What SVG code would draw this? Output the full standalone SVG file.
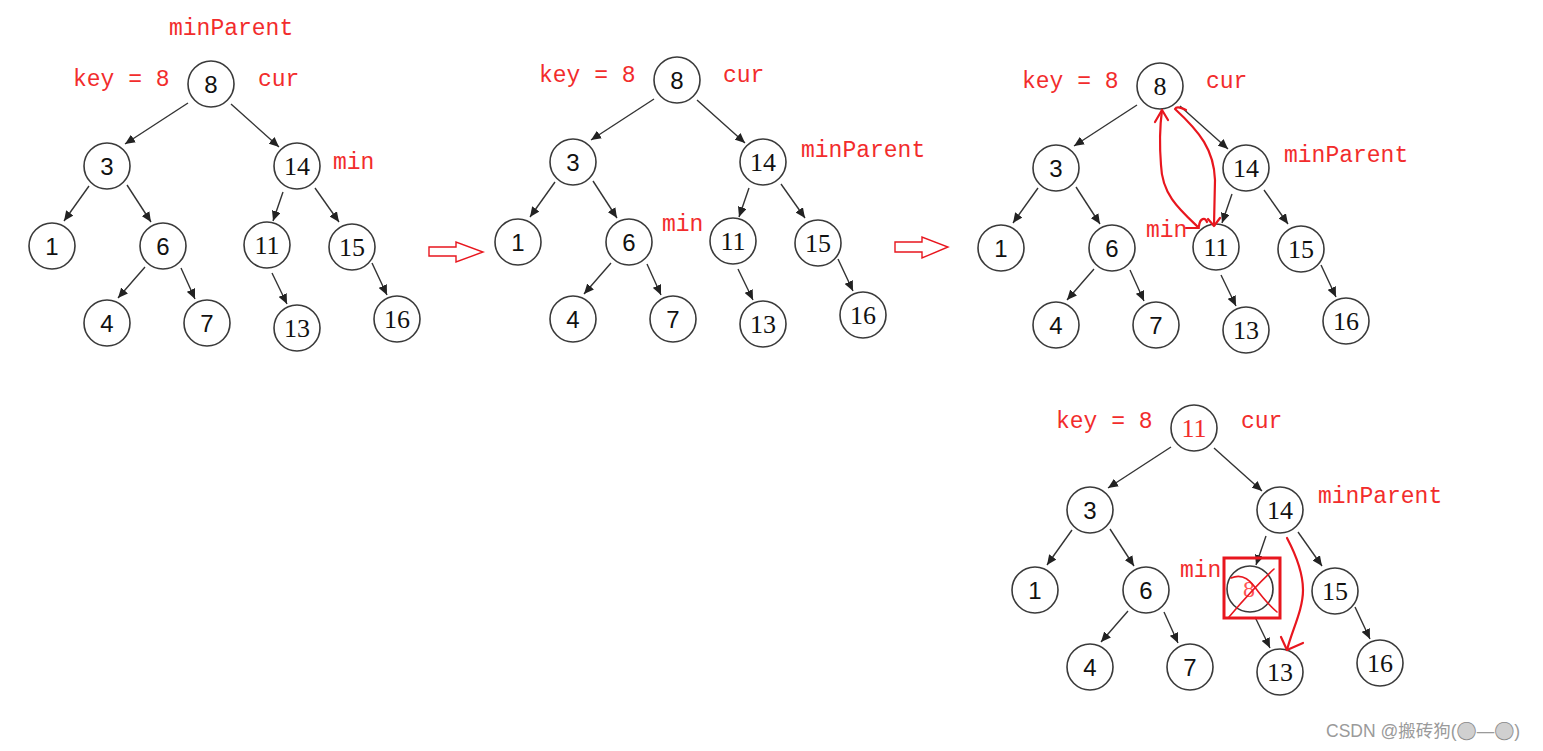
<svg xmlns="http://www.w3.org/2000/svg" width="1543" height="751" viewBox="0 0 1543 751">
<style>
.nd circle{fill:#fff;stroke:#3a3a3a;stroke-width:1.6}
.sa{font-family:"Liberation Sans",Arial,sans-serif;font-size:24px;fill:#111;text-anchor:middle}
.se{font-family:"Liberation Serif","Times New Roman",serif;font-size:26px;fill:#111;text-anchor:middle}
.lb{font-family:"Liberation Mono","Courier New",monospace;font-size:23px;fill:#f22c2c}
.ed line{stroke:#333;stroke-width:1.4;marker-end:url(#ah)}
.rd{fill:none;stroke:#e8161e;stroke-width:2.2;stroke-linecap:round;stroke-linejoin:round}
.bg{fill:none;stroke:#e8161e;stroke-width:1.4}
</style>
<defs>
<marker id="ah" markerUnits="userSpaceOnUse" markerWidth="11" markerHeight="9" refX="10" refY="4.5" orient="auto">
<path d="M0,0 L10,4.5 L0,9 Z" fill="#222"/>
</marker>
</defs>
<rect width="1543" height="751" fill="#fff"/>

<!-- Tree 1 -->
<g id="tree1">
<g id="tree1-edges" class="ed">
<line x1="188" y1="103" x2="125" y2="144"/>
<line x1="231" y1="104" x2="279" y2="147"/>
<line x1="89" y1="186" x2="64" y2="221"/>
<line x1="127" y1="185" x2="151" y2="222"/>
<line x1="283" y1="192" x2="273" y2="221"/>
<line x1="315" y1="188" x2="339" y2="222"/>
<line x1="145" y1="267" x2="118" y2="298"/>
<line x1="181" y1="268" x2="195" y2="299"/>
<line x1="272" y1="273" x2="287" y2="304"/>
<line x1="372" y1="263" x2="387" y2="295"/>
</g>
<g id="t1-n8" class="nd"><circle cx="211" cy="84" r="23"/><text class="sa" x="211" y="93">8</text></g>
<g id="t1-n3" class="nd"><circle cx="107" cy="166" r="23"/><text class="sa" x="107" y="175">3</text></g>
<g id="t1-n14" class="nd"><circle cx="297" cy="166" r="23"/><text class="se" x="297" y="175">14</text></g>
<g id="t1-n1" class="nd"><circle cx="52" cy="246" r="23"/><text class="sa" x="52" y="255">1</text></g>
<g id="t1-n6" class="nd"><circle cx="163" cy="246" r="23"/><text class="sa" x="163" y="255">6</text></g>
<g id="t1-n11" class="nd"><circle cx="267" cy="245" r="23"/><text class="se" x="267" y="254">11</text></g>
<g id="t1-n15" class="nd"><circle cx="352" cy="247" r="23"/><text class="se" x="352" y="256">15</text></g>
<g id="t1-n4" class="nd"><circle cx="107" cy="323" r="23"/><text class="sa" x="107" y="332">4</text></g>
<g id="t1-n7" class="nd"><circle cx="207" cy="323" r="23"/><text class="sa" x="207" y="332">7</text></g>
<g id="t1-n13" class="nd"><circle cx="297" cy="328" r="23"/><text class="se" x="297" y="337">13</text></g>
<g id="t1-n16" class="nd"><circle cx="397" cy="319" r="23"/><text class="se" x="397" y="328">16</text></g>
</g>
<g id="tree1-labels">
<text class="lb" x="169" y="35">minParent</text>
<text class="lb" x="73" y="86">key = 8</text>
<text class="lb" x="258" y="86">cur</text>
<text class="lb" x="333" y="169">min</text>
</g>

<!-- step arrow 1 -->
<g id="step1"><polygon class="bg" points="429,247 456,247 456,242 483,252 456,262 456,256 429,256"/></g>

<!-- Tree 2 -->
<g id="tree2" transform="translate(466,-4)">
<g id="tree2-edges" class="ed">
<line x1="188" y1="103" x2="125" y2="144"/>
<line x1="231" y1="104" x2="279" y2="147"/>
<line x1="89" y1="186" x2="64" y2="221"/>
<line x1="127" y1="185" x2="151" y2="222"/>
<line x1="283" y1="192" x2="273" y2="221"/>
<line x1="315" y1="188" x2="339" y2="222"/>
<line x1="145" y1="267" x2="118" y2="298"/>
<line x1="181" y1="268" x2="195" y2="299"/>
<line x1="272" y1="273" x2="287" y2="304"/>
<line x1="372" y1="263" x2="387" y2="295"/>
</g>
<g id="t2-n8" class="nd"><circle cx="211" cy="84" r="23"/><text class="sa" x="211" y="93">8</text></g>
<g id="t2-n3" class="nd"><circle cx="107" cy="166" r="23"/><text class="sa" x="107" y="175">3</text></g>
<g id="t2-n14" class="nd"><circle cx="297" cy="166" r="23"/><text class="se" x="297" y="175">14</text></g>
<g id="t2-n1" class="nd"><circle cx="52" cy="246" r="23"/><text class="sa" x="52" y="255">1</text></g>
<g id="t2-n6" class="nd"><circle cx="163" cy="246" r="23"/><text class="sa" x="163" y="255">6</text></g>
<g id="t2-n11" class="nd"><circle cx="267" cy="245" r="23"/><text class="se" x="267" y="254">11</text></g>
<g id="t2-n15" class="nd"><circle cx="352" cy="247" r="23"/><text class="se" x="352" y="256">15</text></g>
<g id="t2-n4" class="nd"><circle cx="107" cy="323" r="23"/><text class="sa" x="107" y="332">4</text></g>
<g id="t2-n7" class="nd"><circle cx="207" cy="323" r="23"/><text class="sa" x="207" y="332">7</text></g>
<g id="t2-n13" class="nd"><circle cx="297" cy="328" r="23"/><text class="se" x="297" y="337">13</text></g>
<g id="t2-n16" class="nd"><circle cx="397" cy="319" r="23"/><text class="se" x="397" y="328">16</text></g>
</g>
<g id="tree2-labels">
<text class="lb" x="539" y="82">key = 8</text>
<text class="lb" x="723" y="82">cur</text>
<text class="lb" x="801" y="157">minParent</text>
<text class="lb" x="662" y="231">min</text>
</g>

<!-- step arrow 2 -->
<g id="step2"><polygon class="bg" points="895,242 922,242 922,237 948,247 922,258 922,252 895,252"/></g>

<!-- Tree 3 -->
<g id="tree3" transform="translate(949,2)">
<g id="tree3-edges" class="ed">
<line x1="188" y1="103" x2="125" y2="144"/>
<line x1="231" y1="104" x2="279" y2="147"/>
<line x1="89" y1="186" x2="64" y2="221"/>
<line x1="127" y1="185" x2="151" y2="222"/>
<line x1="283" y1="192" x2="273" y2="221"/>
<line x1="315" y1="188" x2="339" y2="222"/>
<line x1="145" y1="267" x2="118" y2="298"/>
<line x1="181" y1="268" x2="195" y2="299"/>
<line x1="272" y1="273" x2="287" y2="304"/>
<line x1="372" y1="263" x2="387" y2="295"/>
</g>
<g id="t3-n8" class="nd"><circle cx="211" cy="84" r="23"/><text class="se" x="211" y="93">8</text></g>
<g id="t3-n3" class="nd"><circle cx="107" cy="166" r="23"/><text class="sa" x="107" y="175">3</text></g>
<g id="t3-n14" class="nd"><circle cx="297" cy="166" r="23"/><text class="se" x="297" y="175">14</text></g>
<g id="t3-n1" class="nd"><circle cx="52" cy="246" r="23"/><text class="sa" x="52" y="255">1</text></g>
<g id="t3-n6" class="nd"><circle cx="163" cy="246" r="23"/><text class="sa" x="163" y="255">6</text></g>
<g id="t3-n11" class="nd"><circle cx="267" cy="245" r="23"/><text class="se" x="267" y="254">11</text></g>
<g id="t3-n15" class="nd"><circle cx="352" cy="247" r="23"/><text class="se" x="352" y="256">15</text></g>
<g id="t3-n4" class="nd"><circle cx="107" cy="323" r="23"/><text class="sa" x="107" y="332">4</text></g>
<g id="t3-n7" class="nd"><circle cx="207" cy="323" r="23"/><text class="sa" x="207" y="332">7</text></g>
<g id="t3-n13" class="nd"><circle cx="297" cy="328" r="23"/><text class="se" x="297" y="337">13</text></g>
<g id="t3-n16" class="nd"><circle cx="397" cy="319" r="23"/><text class="se" x="397" y="328">16</text></g>
</g>
<g id="tree3-labels">
<text class="lb" x="1022" y="88">key = 8</text>
<text class="lb" x="1206" y="88">cur</text>
<text class="lb" x="1284" y="162">minParent</text>
<text class="lb" x="1146" y="237">min</text>
</g>
<g id="tree3-swap">
<path class="rd" d="M1186,228 L1199,228 C1180,210 1162,195 1161,165 C1159,140 1160,125 1162,110"/>
<path class="rd" d="M1155,122 L1162,110 L1168,120"/>
<path class="rd" d="M1186,110 C1180,107 1176,107 1175,109 C1200,132 1214,150 1215,180 L1214,225"/>
<path class="rd" d="M1199,226 C1200,218 1205,217 1207,222 M1208,219 L1214,226 L1220,218"/>
</g>

<!-- Tree 4 -->
<g id="tree4" transform="translate(983,344)">
<g id="tree4-edges" class="ed">
<line x1="188" y1="103" x2="125" y2="144"/>
<line x1="231" y1="104" x2="279" y2="147"/>
<line x1="89" y1="186" x2="64" y2="221"/>
<line x1="127" y1="185" x2="151" y2="222"/>
<line x1="283" y1="192" x2="273" y2="221"/>
<line x1="315" y1="188" x2="339" y2="222"/>
<line x1="145" y1="267" x2="118" y2="298"/>
<line x1="181" y1="268" x2="195" y2="299"/>
<line x1="272" y1="273" x2="287" y2="304"/>
<line x1="372" y1="263" x2="387" y2="295"/>
</g>
<g id="t4-n11" class="nd"><circle cx="211" cy="84" r="23"/><text class="se" x="211" y="93" style="fill:#f22c2c">11</text></g>
<g id="t4-n3" class="nd"><circle cx="107" cy="166" r="23"/><text class="sa" x="107" y="175">3</text></g>
<g id="t4-n14" class="nd"><circle cx="297" cy="166" r="23"/><text class="se" x="297" y="175">14</text></g>
<g id="t4-n1" class="nd"><circle cx="52" cy="246" r="23"/><text class="sa" x="52" y="255">1</text></g>
<g id="t4-n6" class="nd"><circle cx="163" cy="246" r="23"/><text class="sa" x="163" y="255">6</text></g>
<g id="t4-n8" class="nd"><circle cx="267" cy="245" r="23"/><text class="se" x="266" y="253" style="fill:#f55;font-size:24px">8</text></g>
<g id="t4-n15" class="nd"><circle cx="352" cy="247" r="23"/><text class="se" x="352" y="256">15</text></g>
<g id="t4-n4" class="nd"><circle cx="107" cy="323" r="23"/><text class="sa" x="107" y="332">4</text></g>
<g id="t4-n7" class="nd"><circle cx="207" cy="323" r="23"/><text class="sa" x="207" y="332">7</text></g>
<g id="t4-n13" class="nd"><circle cx="297" cy="328" r="23"/><text class="se" x="297" y="337">13</text></g>
<g id="t4-n16" class="nd"><circle cx="397" cy="319" r="23"/><text class="se" x="397" y="328">16</text></g>
</g>
<g id="tree4-labels">
<text class="lb" x="1056" y="428">key = 8</text>
<text class="lb" x="1241" y="428">cur</text>
<text class="lb" x="1318" y="503">minParent</text>
<text class="lb" x="1180" y="577">min</text>
</g>
<g id="tree4-delete">
<rect x="1224" y="558" width="56" height="60" fill="none" stroke="#e8161e" stroke-width="3"/>
<path class="rd" style="stroke-width:1.6" d="M1229,617 C1245,598 1260,582 1274,569"/>
<path class="rd" style="stroke-width:1.6" d="M1231,578 C1240,574 1248,578 1254,586 C1262,597 1270,606 1277,612"/>
<path class="rd" d="M1287,538 C1296,555 1303,572 1303,590 C1303,610 1292,630 1287,650"/>
<path class="rd" d="M1281,637 L1287,650 L1303,643"/>
</g>

<text x="1326" y="737" style="font-family:'Liberation Sans','Noto Sans CJK SC',sans-serif;font-size:17.5px;fill:#9a9a9a">CSDN @搬砖狗(<tspan style="font-family:'DejaVu Sans',sans-serif;font-size:23px;fill:#d0d0d0;stroke:#8a8a8a;stroke-width:0.8">●</tspan>—<tspan style="font-family:'DejaVu Sans',sans-serif;font-size:23px;fill:#d0d0d0;stroke:#8a8a8a;stroke-width:0.8">●</tspan>)</text>
</svg>
